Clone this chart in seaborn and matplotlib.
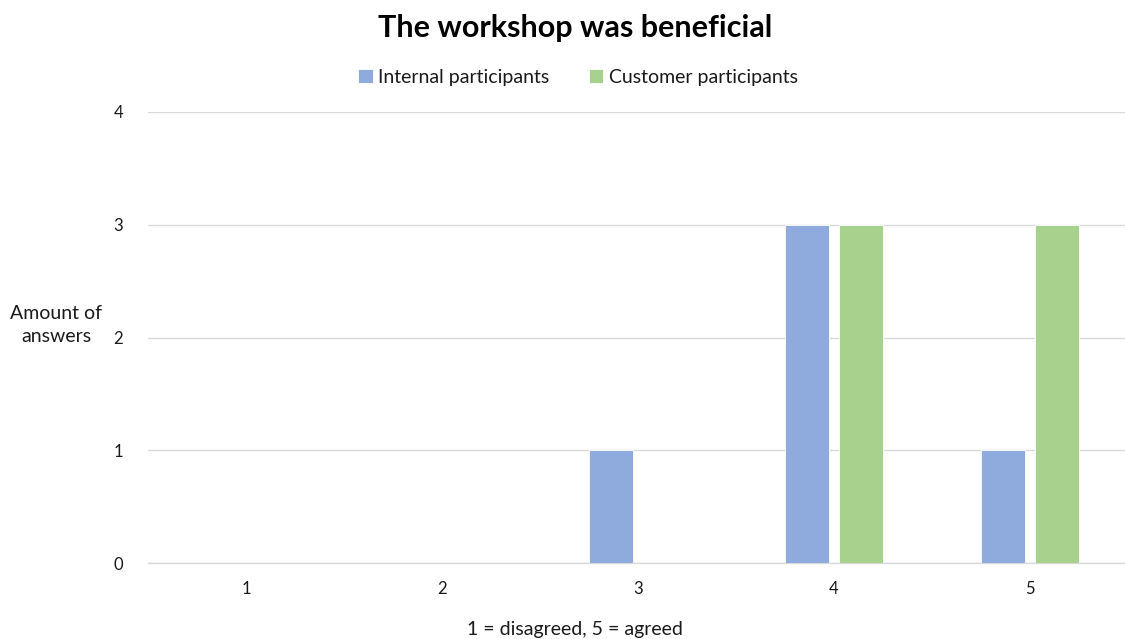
import matplotlib
matplotlib.use("Agg")
import matplotlib.pyplot as plt
import seaborn as sns
import pandas as pd

# Survey responses per rating
ratings = ["1", "2", "3", "4", "5"]
internal = [0, 0, 1, 3, 1]
customer = [0, 0, 0, 3, 3]
series_names = ["Internal participants", "Customer participants"]
colors = ["#8FAADC", "#A9D18E"]

df = pd.DataFrame({
    "rating": ratings * 2,
    "count": internal + customer,
    "group": [series_names[0]] * len(ratings) + [series_names[1]] * len(ratings),
})

sns.set_theme(style="white")
plt.rcParams["font.family"] = ["Lato", "DejaVu Sans"]

text_color = "#1A1A1A"

fig = plt.figure(figsize=(11.25, 6.39), dpi=100)
ax = fig.add_axes([148 / 1125, (639 - 563) / 639, 980 / 1125, (563 - 112) / 639])

sns.barplot(data=df, x="rating", y="count", hue="group", order=ratings,
            hue_order=series_names, palette=colors, width=0.56, gap=0.2,
            edgecolor="white", linewidth=0.6, saturation=1, ax=ax, zorder=3)

ax.set_ylim(0, 4)
ax.set_xlim(-0.5, 4.5)
ax.set_yticks([0, 1, 2, 3, 4])
ax.yaxis.grid(True, color="#D9D9D9", linewidth=1, zorder=0)
ax.set_axisbelow(True)
for s in ["top", "right", "left"]:
    ax.spines[s].set_visible(False)
ax.spines["bottom"].set_color("#D9D9D9")
ax.spines["bottom"].set_linewidth(1)
ax.tick_params(axis="both", length=0, labelsize=12, colors=text_color)
ax.tick_params(axis="x", pad=13)
ax.tick_params(axis="y", pad=18)

ax.set_xlabel("")
ax.set_ylabel("")
fig.text(575 / 1125, 1 - 630 / 639, "1 = disagreed, 5 = agreed", ha="center",
         va="center", fontsize=14, color=text_color)
fig.text(56 / 1125, 1 - 325 / 639, "Amount of\nanswers", ha="center", va="center",
         fontsize=14, color=text_color, linespacing=1.45)

fig.suptitle("The workshop was beneficial", x=575 / 1125, y=1 - 28 / 639,
             va="center", fontsize=22, fontweight="bold", color="#000000")

handles, labels = ax.get_legend_handles_labels()
ax.legend_.remove()
fig.legend(handles, labels, loc="center", bbox_to_anchor=(578 / 1125, 1 - 77 / 639),
           ncol=2, frameon=False, fontsize=14, handlelength=0.75, handleheight=0.75,
           handletextpad=0.3, columnspacing=2.0, labelcolor=text_color)

fig.savefig("out.png", dpi=100)
